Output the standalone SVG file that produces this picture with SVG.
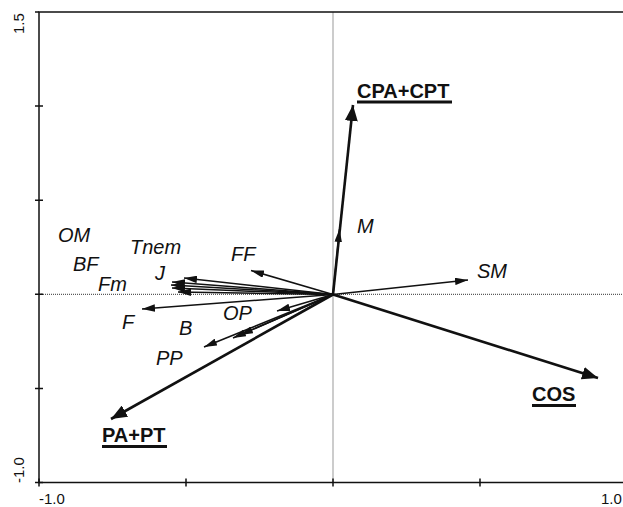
<svg xmlns="http://www.w3.org/2000/svg" width="623" height="507" viewBox="0 0 623 507">
<style>
.lab{font-family:"Liberation Sans",Arial,sans-serif;font-size:20px;font-style:italic;fill:#111}
.big{font-family:"Liberation Sans",Arial,sans-serif;font-size:20px;font-weight:bold;fill:#111}
.ax{font-family:"Liberation Sans",Arial,sans-serif;font-size:15px;fill:#111}
.thin{stroke:#111;stroke-width:1.5;fill:none;marker-end:url(#ah)}
.thick{stroke:#111;stroke-width:2.6;fill:none;marker-end:url(#AH)}
.ul{stroke:#111;stroke-width:3}
.frame{stroke:#111;stroke-width:1.5;fill:none}
</style>
<defs>
<marker id="ah" markerUnits="userSpaceOnUse" viewBox="0 0 13 7.5" markerWidth="13" markerHeight="7.5" refX="13" refY="3.75" orient="auto">
<path d="M0,0 L13,3.75 L0,7.5 z" fill="#111"/>
</marker>
<marker id="AH" markerUnits="userSpaceOnUse" viewBox="0 0 16 13" markerWidth="16" markerHeight="13" refX="16" refY="6.5" orient="auto">
<path d="M0,0 L16,6.5 L0,13 z" fill="#111"/>
</marker>
</defs>
<g id="axes">
<line x1="333" y1="12" x2="333" y2="482.5" stroke="#999" stroke-width="1"/>
<line x1="39" y1="294.3" x2="623" y2="294.3" stroke="#333" stroke-width="1" stroke-dasharray="1,1"/>
<path class="frame" d="M623,12 H39 V482.5 H623"/>
<path class="frame" d="M35,12 H39 M35,106.1 H43 M35,200.2 H43 M35,294.3 H43 M35,388.4 H43 M35,482.5 H43 M39,478.5 V486.5 M186,478.5 V486.5 M333,478.5 V486.5 M480,478.5 V486.5"/>
<text class="ax" x="39" y="504">-1.0</text>
<text class="ax" x="601" y="504">1.0</text>
<text class="ax" transform="translate(24,34) rotate(-90)">1.5</text>
<text class="ax" transform="translate(24,483) rotate(-90)">-1.0</text>
</g>
<g id="connectors">
<line class="thick" x1="333" y1="294.5" x2="353" y2="105"/>
<line class="thick" x1="333" y1="294.5" x2="598" y2="378"/>
<line class="thick" x1="333" y1="294.5" x2="111" y2="419"/>
<line class="thin" x1="333" y1="294.5" x2="339.5" y2="229"/>
<line class="thin" x1="333" y1="294.5" x2="468" y2="280"/>
<line class="thin" x1="333" y1="294.5" x2="251" y2="270.5"/>
<line class="thin" x1="333" y1="294.5" x2="184" y2="278"/>
<line class="thin" x1="333" y1="294.5" x2="172" y2="282"/>
<line class="thin" x1="333" y1="294.5" x2="171" y2="285"/>
<line class="thin" x1="333" y1="294.5" x2="172" y2="288"/>
<line class="thin" x1="333" y1="294.5" x2="178" y2="292"/>
<line class="thin" x1="333" y1="294.5" x2="142" y2="309"/>
<line class="thin" x1="333" y1="294.5" x2="277" y2="311"/>
<line class="thin" x1="333" y1="294.5" x2="240" y2="335"/>
<line class="thin" x1="333" y1="294.5" x2="233" y2="338"/>
<line class="thin" x1="333" y1="294.5" x2="204" y2="347"/>
</g>
<g id="n-cpacpt"><text class="big" x="357" y="98">CPA+CPT</text><line class="ul" x1="357" y1="102" x2="452" y2="102"/></g>
<g id="n-cos"><text class="big" x="532" y="401">COS</text><line class="ul" x1="532" y1="405.5" x2="576" y2="405.5"/></g>
<g id="n-papt"><text class="big" x="102" y="442">PA+PT</text><line class="ul" x1="102" y1="446.5" x2="167" y2="446.5"/></g>
<g id="n-m"><text class="lab" x="357" y="233">M</text></g>
<g id="n-sm"><text class="lab" x="477" y="278">SM</text></g>
<g id="n-ff"><text class="lab" x="231" y="261">FF</text></g>
<g id="n-om"><text class="lab" x="58" y="242">OM</text></g>
<g id="n-tnem"><text class="lab" x="130" y="254">Tnem</text></g>
<g id="n-bf"><text class="lab" x="73" y="271">BF</text></g>
<g id="n-j"><text class="lab" x="155" y="280">J</text></g>
<g id="n-fm"><text class="lab" x="98" y="291">Fm</text></g>
<g id="n-f"><text class="lab" x="122" y="329">F</text></g>
<g id="n-op"><text class="lab" x="223" y="320">OP</text></g>
<g id="n-b"><text class="lab" x="179" y="335">B</text></g>
<g id="n-pp"><text class="lab" x="156" y="365">PP</text></g>
</svg>
